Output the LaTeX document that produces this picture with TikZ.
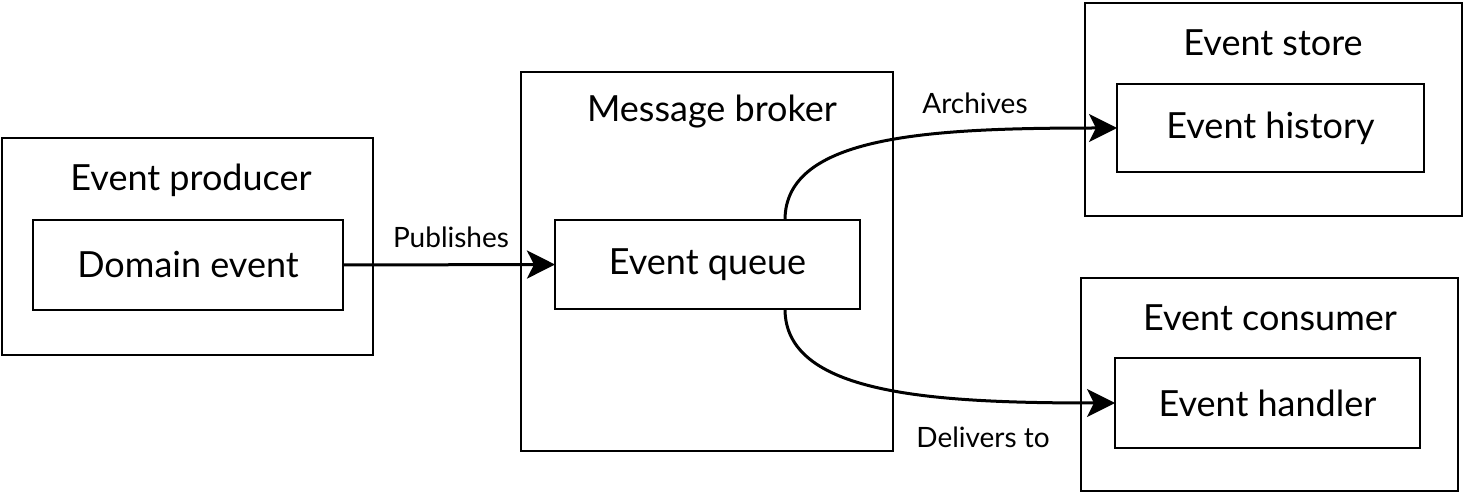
\documentclass[tikz,border=0pt]{standalone}
\usepackage{fontspec}
\setmainfont{Lato}
\usetikzlibrary{arrows.meta}
\tikzset{
  outerbox/.style={draw=black, line width=2pt, inner sep=0pt, outer sep=0pt, fill=none},
  innerbox/.style={draw=black, line width=2pt, inner sep=0pt, outer sep=0pt, font=\fontsize{36}{42}\selectfont},
  title/.style={font=\fontsize{36}{42}\selectfont, inner sep=0pt},
  elabel/.style={font=\fontsize{28}{33}\selectfont, inner sep=0pt},
  flow/.style={line width=3pt, -{Stealth[length=28pt, width=28pt, inset=7pt]}}
}
\begin{document}
\begin{tikzpicture}[x=1pt,y=-1pt]
\useasboundingbox (0,0) rectangle (1465,494);
\fill[white] (0,0) rectangle (1465,494);

% containers
\node[outerbox, minimum width=371pt, minimum height=217pt] (producer) at (187.5,246.5) {};
\node[outerbox, minimum width=372pt, minimum height=379pt] (broker) at (707,261.5) {};
\node[outerbox, minimum width=377pt, minimum height=213pt] (store) at (1273.5,109.5) {};
\node[outerbox, minimum width=377pt, minimum height=213pt] (consumer) at (1269.5,384.5) {};

% titles
\node[title] (tproducer) at (191,180) {Event producer};
\node[title] (tbroker) at (712,112) {Message broker};
\node[title] (tstore) at (1273,43) {Event store};
\node[title] (tconsumer) at (1270,318) {Event consumer};

% inner boxes
\node[innerbox, minimum width=310pt, minimum height=90pt] (domain) at (188,265) {Domain event};
\node[innerbox, minimum width=305pt, minimum height=89pt] (queue) at (707.5,264.5) {Event queue};
\node[innerbox, minimum width=307pt, minimum height=88pt] (history) at (1270.5,128) {Event history};
\node[innerbox, minimum width=305pt, minimum height=90pt] (handler) at (1267.5,403) {Event handler};

% connectors
\draw[flow] (domain.east) -- (queue.west);
\coordinate (qtop) at ([xshift=-75pt]queue.north east);
\coordinate (qbot) at ([xshift=-75pt]queue.south east);
\draw[flow] (qtop) .. controls ([yshift=85pt]qtop) and (930,128) .. (history.west);
\draw[flow] (qbot) .. controls ([yshift=-85pt]qbot) and (930,403) .. (handler.west);

% connector labels
\node[elabel] (lpub) at (451,237) {Publishes};
\node[elabel] (larch) at (975,103) {Archives};
\node[elabel] (ldeliv) at (983,437) {Delivers to};
\end{tikzpicture}
\end{document}
